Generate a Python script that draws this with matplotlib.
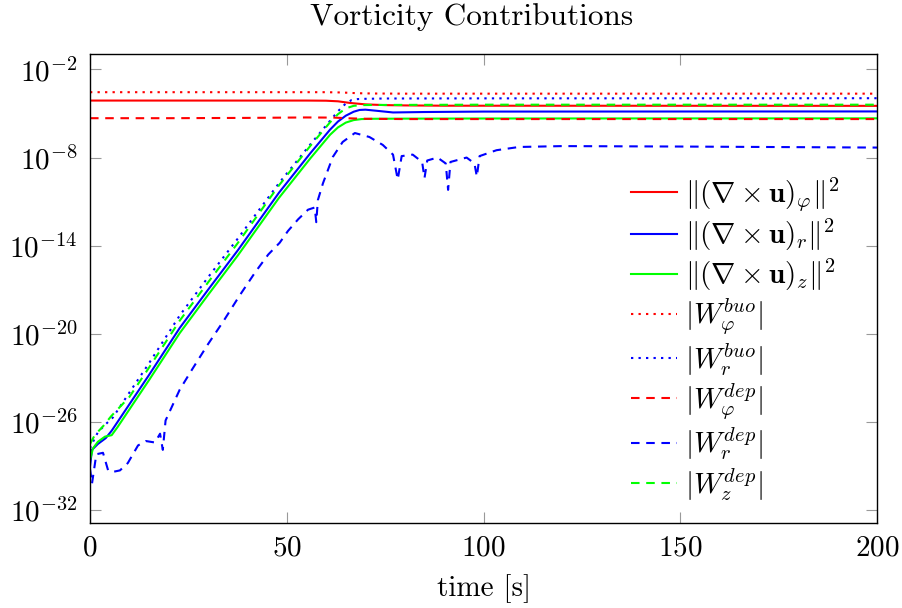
import numpy as np
import matplotlib
matplotlib.use('Agg')
from matplotlib import pyplot as plt

plt.rcParams['font.family'] = 'serif'
plt.rcParams['font.serif'] = ['cmr10']
plt.rcParams['mathtext.fontset'] = 'cm'
plt.rcParams['axes.formatter.use_mathtext'] = True
plt.rcParams['font.size'] = 21

# ---- data (time in s, value as log10 exponent) ----
# ||(curl u)_phi||^2
t_curl_phi = [0, 55, 60, 63, 66, 70, 75, 80, 90, 200]
e_curl_phi = [-4.12, -4.12, -4.13, -4.17, -4.28, -4.38, -4.43, -4.45, -4.47, -4.48]

# ||(curl u)_r||^2
t_curl_r = [0, 0.5, 2, 4, 5.5, 7, 10, 15, 22.8, 30, 37.6, 48, 56, 61, 63, 65, 67,
            68.5, 70, 73, 77, 85, 100, 200]
e_curl_r = [-29.0, -27.9, -27.5, -27.1, -26.6, -26.0, -24.8, -22.8, -19.6, -17.0,
            -14.3, -10.4, -7.7, -6.1, -5.55, -5.15, -4.88, -4.76, -4.74, -4.82,
            -4.93, -4.9, -4.87, -4.86]

# ||(curl u)_z||^2
t_curl_z = [0, 0.75, 2, 3.8, 5.5, 7, 10, 15, 22.8, 30, 37.6, 48, 56, 61, 63, 65,
            67, 69, 72, 80, 100, 200]
e_curl_z = [-28.6, -27.8, -27.35, -27.0, -26.9, -26.35, -25.15, -23.15, -19.95,
            -17.35, -14.65, -10.75, -8.05, -6.45, -5.95, -5.62, -5.45, -5.38,
            -5.36, -5.35, -5.34, -5.33]

# |W_phi^buo|
t_buo_phi = [0, 60, 64, 68, 72, 80, 200]
e_buo_phi = [-3.55, -3.55, -3.57, -3.62, -3.64, -3.65, -3.65]

# |W_r^buo|
t_buo_r = [0, 0.3, 2, 3.8, 5.8, 10, 15, 22.8, 30, 37.6, 48, 56, 61, 63, 65, 66.5,
           68, 70, 75, 100, 200]
e_buo_r = [-27.8, -27.6, -26.7, -26.2, -25.7, -24.0, -22.0, -18.75, -16.15, -13.5,
           -9.75, -7.1, -5.5, -4.85, -4.32, -4.08, -4.02, -4.0, -3.98, -3.97, -3.96]

# |W_phi^dep|
t_dep_phi = [0, 20, 40, 55, 62, 66, 70, 80, 200]
e_dep_phi = [-5.32, -5.32, -5.30, -5.27, -5.28, -5.33, -5.36, -5.38, -5.38]

# |W_r^dep|
t_dep_r = [0, 0.5, 1.6, 3.3, 4.6, 5.8, 7.6, 9.6, 12.2, 14.2, 16.5, 17.8, 18.5,
           19.2, 22.8, 26, 30, 34, 38, 42, 45.3, 48.2, 50.3, 52.9, 55.4, 57.1,
           57.5, 57.9, 59.2, 61.7, 64.2, 67.3, 71, 74.4, 77, 78.2, 79.2, 82, 84.4,
           85.0, 85.7, 88.3, 90.4, 91.0, 91.6, 95.7, 97.7, 98.3, 99, 103.3, 109,
           120, 150, 200]
e_dep_r = [-29.2, -30.2, -28.2, -28.1, -29.3, -29.4, -29.3, -28.8, -27.6, -27.3,
           -27.4, -26.8, -27.9, -25.9, -23.8, -22.4, -20.7, -19.1, -17.4, -15.8,
           -14.6, -13.8, -13.0, -12.2, -11.55, -11.4, -12.4, -10.9, -9.75, -7.96,
           -6.94, -6.33, -6.6, -7.14, -7.8, -9.5, -7.9, -7.8, -8.3, -9.4, -8.2,
           -8.0, -8.4, -10.2, -8.3, -8.0, -8.4, -9.3, -7.9, -7.5, -7.28, -7.22,
           -7.25, -7.32]

# |W_z^dep|
t_dep_z = [0, 1.2, 3.3, 5.4, 10, 15, 22.8, 30, 37.6, 48, 56, 61, 63, 65, 67, 69,
           72, 100, 200]
e_dep_z = [-27.5, -26.9, -26.3, -25.6, -24.3, -22.3, -19.1, -16.5, -13.8, -9.9,
           -7.2, -5.6, -5.05, -4.65, -4.48, -4.43, -4.42, -4.40, -4.40]

x_ticks = [0, 50, 100, 150, 200]
x_tick_labels = ['$0$', '$50$', '$100$', '$150$', '$200$']
y_ticks = [1e-32, 1e-26, 1e-20, 1e-14, 1e-8, 1e-2]
y_tick_labels = ['$10^{-32}$', '$10^{-26}$', '$10^{-20}$', '$10^{-14}$',
                 '$10^{-8}$', '$10^{-2}$']

# ---- plot ----
lw = 1.5
dashed = (0, (4.1, 3.2))
dotted = (0, (1.1, 2.5))

fig = plt.figure(figsize=(9.02, 6.08), dpi=100)
ax = fig.add_axes([0.0998, 0.1398, 0.8725, 0.7715])

series = [
    (t_curl_phi, e_curl_phi, 'red', '-', r'$\|(\nabla \times \mathbf{u})_{\varphi}\|^2$'),
    (t_curl_r, e_curl_r, 'blue', '-', r'$\|(\nabla \times \mathbf{u})_{r}\|^2$'),
    (t_curl_z, e_curl_z, 'lime', '-', r'$\|(\nabla \times \mathbf{u})_{z}\|^2$'),
    (t_buo_phi, e_buo_phi, 'red', dotted, r'$|W_{\varphi}^{buo}|$'),
    (t_buo_r, e_buo_r, 'blue', dotted, r'$|W_{r}^{buo}|$'),
    (t_dep_phi, e_dep_phi, 'red', dashed, r'$|W_{\varphi}^{dep}|$'),
    (t_dep_r, e_dep_r, 'blue', dashed, r'$|W_{r}^{dep}|$'),
    (t_dep_z, e_dep_z, 'lime', dashed, r'$|W_{z}^{dep}|$'),
]
for t, e, c, ls, lab in series:
    ax.plot(t, 10.0 ** np.array(e), color=c, linestyle=ls, lw=lw, label=lab)

ax.set_yscale('log')
ax.set_xlim(0, 200)
ax.set_ylim(10 ** -32.88, 10 ** -0.945)
ax.set_xticks(x_ticks)
ax.set_xticklabels(x_tick_labels)
ax.set_yticks(y_ticks)
ax.set_yticklabels(y_tick_labels)
ax.yaxis.set_minor_locator(matplotlib.ticker.NullLocator())
ax.tick_params(direction='in', length=8, width=0.8, color='0.6',
               top=True, right=True, labelsize=21)
ax.tick_params(axis='x', pad=9)
ax.tick_params(axis='y', pad=9)
for s in ax.spines.values():
    s.set_linewidth(1.0)

ax.set_title('Vorticity Contributions', fontsize=22.5, pad=21, x=0.485)
ax.set_xlabel('time [s]', fontsize=21, labelpad=9)

ax.legend(loc='upper left', bbox_to_anchor=(0.688, 0.741), frameon=False,
          borderpad=0, borderaxespad=0, handlelength=1.55, handletextpad=0.3,
          labelspacing=0.13, fontsize=21)

fig.savefig('out.png', dpi=100)
